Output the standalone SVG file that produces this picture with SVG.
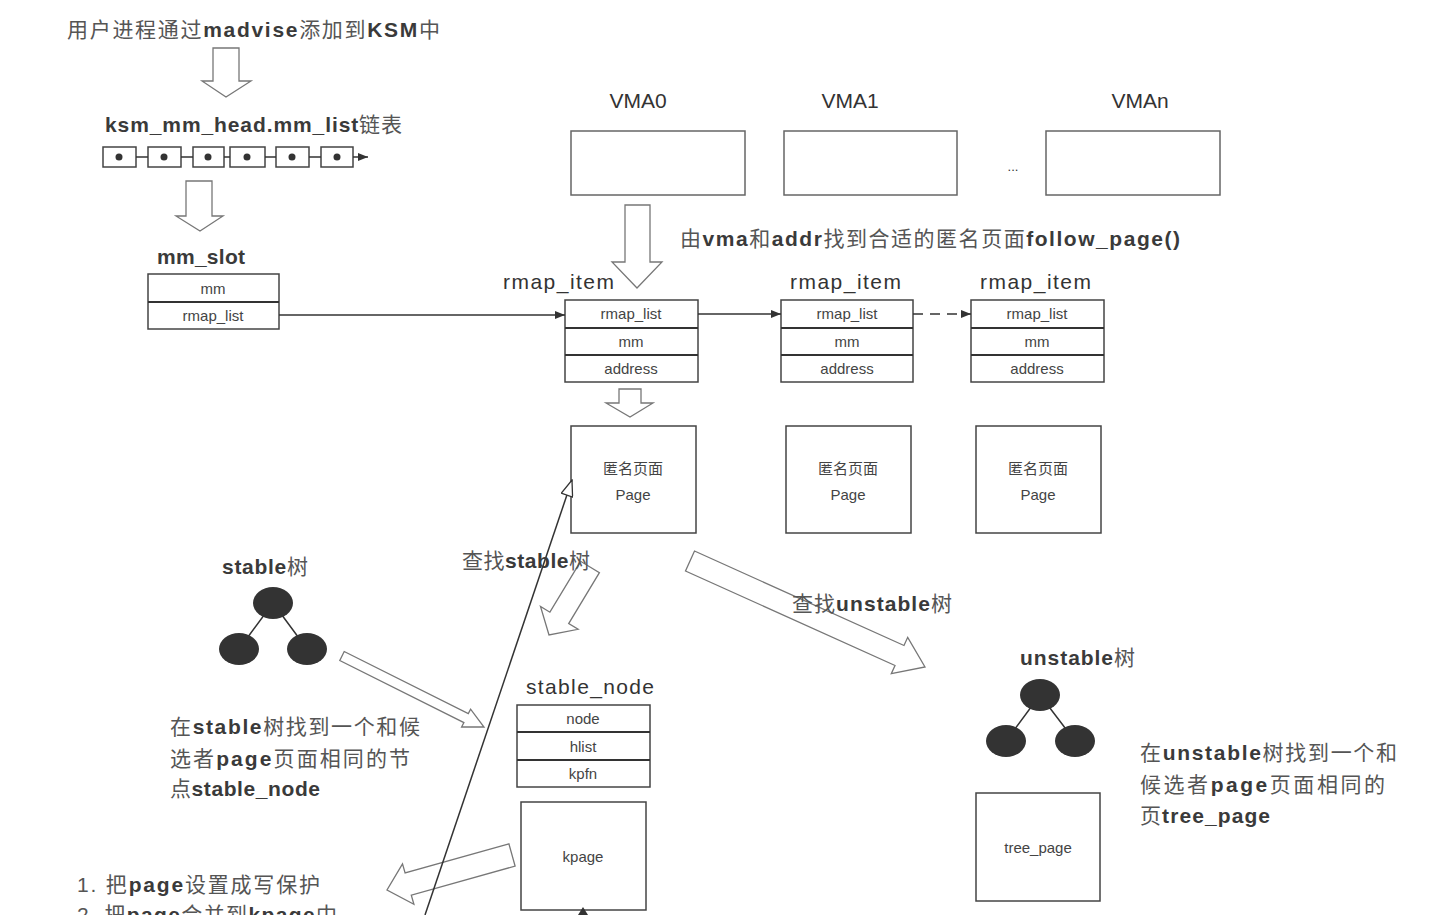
<svg xmlns="http://www.w3.org/2000/svg" width="1438" height="915" viewBox="0 0 1438 915">
<style>
text{font-family:"Liberation Sans","Noto Sans CJK SC",sans-serif;fill:#333}
.lbl{font-size:21px}
.b{font-weight:bold;fill:#3a3a3a}
.c{fill:#555}
.fld{font-size:15px;fill:#444;text-anchor:middle}
.box{fill:#fff;stroke:#444;stroke-width:1.5}
.vma{fill:#fff;stroke:#666;stroke-width:1.5}
.div{stroke:#333;stroke-width:2}
.blk{fill:#fff;stroke:#777;stroke-width:1.3;stroke-linejoin:miter}
.ln{stroke:#333;stroke-width:1.5;fill:none}
.nd{fill:#333}
</style>
<defs>
<marker id="fa" viewBox="0 0 10 8" refX="10" refY="4" markerWidth="10" markerHeight="8" markerUnits="userSpaceOnUse" orient="auto"><path d="M0,0 L10,4 L0,8 z" fill="#333"/></marker>
<marker id="oa" viewBox="0 0 18 13" refX="17" refY="6.5" markerWidth="18" markerHeight="13" markerUnits="userSpaceOnUse" orient="auto"><path d="M1,0.5 L17,6.5 L1,12.5 z" fill="#fff" stroke="#333" stroke-width="1.3"/></marker>
</defs>
<rect width="1438" height="915" fill="#fff"/>

<g id="title"><text class="lbl" x="67" y="37" font-size="21" textLength="373"><tspan class="c">用户进程通过</tspan><tspan class="b">madvise</tspan><tspan class="c">添加到</tspan><tspan class="b">KSM</tspan><tspan class="c">中</tspan></text></g>

<g id="mm-list">
<text class="lbl" x="105" y="132" textLength="297"><tspan class="b">ksm_mm_head.mm_list</tspan><tspan class="c">链表</tspan></text>
<g class="box">
<rect x="103" y="147" width="33" height="20"/><rect x="148" y="147" width="33" height="20"/><rect x="193" y="147" width="31" height="20"/><rect x="230" y="147" width="35" height="20"/><rect x="276" y="147" width="33" height="20"/><rect x="321" y="147" width="32" height="20"/>
</g>
<g class="nd"><circle cx="119" cy="157" r="3.5"/><circle cx="164" cy="157" r="3.5"/><circle cx="208" cy="157" r="3.5"/><circle cx="247" cy="157" r="3.5"/><circle cx="292" cy="157" r="3.5"/><circle cx="337" cy="157" r="3.5"/></g>
<path class="ln" d="M136,157H148M181,157H193M224,157H230M265,157H276M309,157H321"/>
<line class="ln" x1="353" y1="157" x2="368" y2="157" marker-end="url(#fa)"/>
</g>

<g id="mm_slot">
<text class="lbl b" x="157" y="264" font-size="22" textLength="88">mm_slot</text>
<rect class="box" x="148" y="274" width="131" height="55"/>
<line class="div" x1="148" y1="302" x2="279" y2="302"/>
<text class="fld" x="213" y="294">mm</text>
<text class="fld" x="213" y="321">rmap_list</text>
</g>

<g id="vma0"><text class="lbl" x="638" y="108" text-anchor="middle">VMA0</text><rect class="vma" x="571" y="131" width="174" height="64"/></g>
<g id="vma1"><text class="lbl" x="850" y="108" text-anchor="middle">VMA1</text><rect class="vma" x="784" y="131" width="173" height="64"/></g>
<text x="1013" y="171" font-size="13" text-anchor="middle" fill="#777">...</text>
<g id="vman"><text class="lbl" x="1140" y="108" text-anchor="middle">VMAn</text><rect class="vma" x="1046" y="131" width="174" height="64"/></g>

<text class="lbl" x="680" y="246" textLength="500"><tspan class="c">由</tspan><tspan class="b">vma</tspan><tspan class="c">和</tspan><tspan class="b">addr</tspan><tspan class="c">找到合适的匿名页面</tspan><tspan class="b">follow_page()</tspan></text>

<g id="rmap_item0">
<text class="lbl" x="503" y="289" font-size="22" textLength="111">rmap_item</text>
<rect class="box" x="565" y="300" width="133" height="82"/>
<line class="div" x1="565" y1="328" x2="698" y2="328"/><line class="div" x1="565" y1="355" x2="698" y2="355"/>
<text class="fld" x="631" y="319">rmap_list</text><text class="fld" x="631" y="347">mm</text><text class="fld" x="631" y="374">address</text>
</g>
<g id="rmap_item1">
<text class="lbl" x="790" y="289" font-size="22" textLength="111">rmap_item</text>
<rect class="box" x="781" y="300" width="132" height="82"/>
<line class="div" x1="781" y1="328" x2="913" y2="328"/><line class="div" x1="781" y1="355" x2="913" y2="355"/>
<text class="fld" x="847" y="319">rmap_list</text><text class="fld" x="847" y="347">mm</text><text class="fld" x="847" y="374">address</text>
</g>
<g id="rmap_item2">
<text class="lbl" x="980" y="289" font-size="22" textLength="111">rmap_item</text>
<rect class="box" x="971" y="300" width="133" height="82"/>
<line class="div" x1="971" y1="328" x2="1104" y2="328"/><line class="div" x1="971" y1="355" x2="1104" y2="355"/>
<text class="fld" x="1037" y="319">rmap_list</text><text class="fld" x="1037" y="347">mm</text><text class="fld" x="1037" y="374">address</text>
</g>

<g id="page0"><rect class="box" x="571" y="426" width="125" height="107"/><text class="fld" x="633" y="474" font-size="17">匿名页面</text><text class="fld" x="633" y="500" font-size="16">Page</text></g>
<g id="page1"><rect class="box" x="786" y="426" width="125" height="107"/><text class="fld" x="848" y="474" font-size="17">匿名页面</text><text class="fld" x="848" y="500" font-size="16">Page</text></g>
<g id="page2"><rect class="box" x="976" y="426" width="125" height="107"/><text class="fld" x="1038" y="474" font-size="17">匿名页面</text><text class="fld" x="1038" y="500" font-size="16">Page</text></g>

<g id="stable-tree">
<text class="lbl" x="222" y="574" font-size="20" textLength="86"><tspan class="b">stable</tspan><tspan class="c">树</tspan></text>
<path class="ln" d="M273,603L239,649M273,603L307,649"/>
<ellipse class="nd" cx="273" cy="603" rx="20" ry="16"/><ellipse class="nd" cx="239" cy="649" rx="20" ry="16"/><ellipse class="nd" cx="307" cy="649" rx="20" ry="16"/>
<text class="lbl" x="170" y="734" textLength="250"><tspan class="c">在</tspan><tspan class="b">stable</tspan><tspan class="c">树找到一个和候</tspan></text>
<text class="lbl" x="170" y="766" textLength="240"><tspan class="c">选者</tspan><tspan class="b">page</tspan><tspan class="c">页面相同的节</tspan></text>
<text class="lbl" x="170" y="796" textLength="150"><tspan class="c">点</tspan><tspan class="b">stable_node</tspan></text>
</g>

<g id="stable_node">
<text class="lbl" x="526" y="694" textLength="128">stable_node</text>
<rect class="box" x="517" y="705" width="133" height="82"/>
<line class="div" x1="517" y1="732" x2="650" y2="732"/><line class="div" x1="517" y1="760" x2="650" y2="760"/>
<text class="fld" x="583" y="724">node</text><text class="fld" x="583" y="752">hlist</text><text class="fld" x="583" y="779">kpfn</text>
</g>
<g id="kpage"><rect class="box" x="521" y="802" width="125" height="108"/><text class="fld" x="583" y="862" font-size="16">kpage</text></g>

<g id="unstable-tree">
<text class="lbl" x="1020" y="665" font-size="20" textLength="115"><tspan class="b">unstable</tspan><tspan class="c">树</tspan></text>
<path class="ln" d="M1040,695L1006,741M1040,695L1075,741"/>
<ellipse class="nd" cx="1040" cy="695" rx="20" ry="16"/><ellipse class="nd" cx="1006" cy="741" rx="20" ry="16"/><ellipse class="nd" cx="1075" cy="741" rx="20" ry="16"/>
<text class="lbl" x="1140" y="760" textLength="257"><tspan class="c">在</tspan><tspan class="b">unstable</tspan><tspan class="c">树找到一个和</tspan></text>
<text class="lbl" x="1140" y="792" textLength="245"><tspan class="c">候选者</tspan><tspan class="b">page</tspan><tspan class="c">页面相同的</tspan></text>
<text class="lbl" x="1140" y="823" textLength="130"><tspan class="c">页</tspan><tspan class="b">tree_page</tspan></text>
</g>
<g id="tree_page"><rect class="box" x="976" y="793" width="124" height="108"/><text class="fld" x="1038" y="853">tree_page</text></g>

<g id="steps">
<text class="lbl" x="77" y="892" font-size="20" textLength="243"><tspan class="c">1. 把</tspan><tspan class="b">page</tspan><tspan class="c">设置成写保护</tspan></text>
<text class="lbl" x="77" y="922" font-size="20" textLength="260"><tspan class="c">2. 把</tspan><tspan class="b">page</tspan><tspan class="c">合并到</tspan><tspan class="b">kpage</tspan><tspan class="c">中</tspan></text>
</g>

<g id="connectors">
<polygon class="blk" points="213,48 239,48 239,81 251,81 226,97 202,81 213,81"/>
<polygon class="blk" points="186,181 212,181 212,216 223,216 200,231 176,216 186,216"/>
<polygon class="blk" points="625,205 650,205 650,262 662,262 637,288 612,262 625,262"/>
<polygon class="blk" points="619,389 641,389 641,403 653,403 630,417 606,403 619,403"/>
<polygon class="blk" points="344.2,651.5 468.3,713.6 470.6,709.2 484,727 461.6,727 463.9,722.6 339.8,660.5"/>
<polygon class="blk" points="580.6,561.3 549.9,612.2 540.5,606.5 549,635 578.1,629.3 568.7,623.6 599.4,572.7"/>
<polygon class="blk" points="694.5,551 904,645.5 907.7,637.3 925,667 891.3,673.7 895,665.5 685.5,571"/>
<polygon class="blk" points="508.9,843.9 405.1,873 402.5,863.9 387,890 413.9,904.3 411.3,895.2 515.1,866.1"/>
<line class="ln" x1="279" y1="315" x2="565" y2="315" marker-end="url(#fa)"/>
<line class="ln" x1="698" y1="314" x2="781" y2="314" marker-end="url(#fa)"/>
<line class="ln" x1="913" y1="314" x2="971" y2="314" stroke-dasharray="10,7" marker-end="url(#fa)"/>
<line class="ln" x1="425" y1="915" x2="572" y2="480" marker-end="url(#oa)"/>
<polygon points="583,907 578,915 588,915" fill="#333"/>
</g>
<text class="lbl" x="462" y="568" font-size="20" textLength="128"><tspan class="c">查找</tspan><tspan class="b">stable</tspan><tspan class="c">树</tspan></text>
<text class="lbl" x="792" y="611" font-size="20" textLength="160"><tspan class="c">查找</tspan><tspan class="b">unstable</tspan><tspan class="c">树</tspan></text>
</svg>
